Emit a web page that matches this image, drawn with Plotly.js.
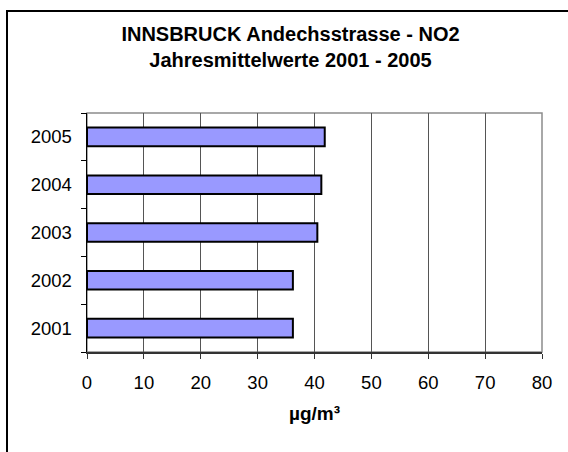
<!DOCTYPE html>
<html>
<head>
<meta charset="utf-8">
<script src="https://cdn.plot.ly/plotly-3.0.1.min.js"></script>
<style>
html,body{margin:0;padding:0;background:#fff;overflow:hidden;}
#chart{width:568px;height:452px;}
</style>
</head>
<body>
<div id="chart"></div>
<script>
const years = ['2001', '2002', '2003', '2004', '2005'];
const no2Values = [36.2, 36.2, 40.5, 41.2, 41.8];
const xTickValues = [0, 10, 20, 30, 40, 50, 60, 70, 80];
const titleLines = ['INNSBRUCK Andechsstrasse - NO2', 'Jahresmittelwerte 2001 - 2005'];
const xAxisTitle = 'µg/m³';

const W = 568, H = 452;
const L = 87, R = 26, T = 113, B = 100;
const pw = W - L - R, ph = H - T - B;
const px = v => (v - L) / pw;
const py = v => (H - B - v) / ph;

const font = 'Liberation Sans, Arial, sans-serif';

const data = [{
  type: 'bar',
  orientation: 'h',
  y: years,
  x: no2Values,
  marker: {color: '#9999FF', line: {color: '#000000', width: 2}},
  hoverinfo: 'x+y'
}];

const layout = {
  width: W, height: H,
  margin: {l: L, r: R, t: T, b: B, pad: 0},
  paper_bgcolor: '#ffffff',
  plot_bgcolor: '#ffffff',
  showlegend: false,
  bargap: 0.61,
  font: {family: font, color: '#000000'},
  title: {
    text: titleLines.join('<br>'),
    font: {family: font, size: 20, weight: 'bold', color: '#000000'},
    xref: 'container', yref: 'container',
    x: 290.5 / W, xanchor: 'center',
    y: 1 - 41 / H, yanchor: 'top'
  },
  xaxis: {
    range: [0, 80],
    tickvals: xTickValues,
    ticktext: xTickValues.map(String),
    showgrid: true, gridcolor: '#555555', gridwidth: 1,
    zeroline: false,
    showline: true, linecolor: '#333333', linewidth: 1.5,
    ticks: 'outside', ticklen: 5, tickcolor: '#333333', tickwidth: 1,
    tickfont: {family: font, size: 18.5, color: '#000000'},
    ticklabelstandoff: 8,
    title: {text: xAxisTitle, font: {family: font, size: 19, weight: 'bold', color: '#000000'}, standoff: 15},
    automargin: false,
    fixedrange: true
  },
  yaxis: {
    type: 'category',
    categoryorder: 'array', categoryarray: years,
    showgrid: false, zeroline: false,
    showline: true, linecolor: '#000000', linewidth: 1.5,
    ticks: 'outside', ticklen: 5, tickcolor: '#000000', tickwidth: 1,
    tickson: 'boundaries',
    tickfont: {family: font, size: 18.5, color: '#000000'},
    ticklabelstandoff: 10,
    automargin: false,
    fixedrange: true
  },
  shapes: [
    {type: 'rect', xref: 'paper', yref: 'paper', x0: 0, x1: 1, y0: 0, y1: 1,
     line: {color: '#8c8c8c', width: 1.5}, layer: 'below'},
    {type: 'rect', xref: 'paper', yref: 'paper',
     x0: px(7), x1: px(620), y0: py(520), y1: py(11),
     line: {color: '#000000', width: 2}, fillcolor: 'rgba(0,0,0,0)', layer: 'below'}
  ]
};

Plotly.newPlot('chart', data, layout, {displayModeBar: false, staticPlot: true});
</script>
</body>
</html>
